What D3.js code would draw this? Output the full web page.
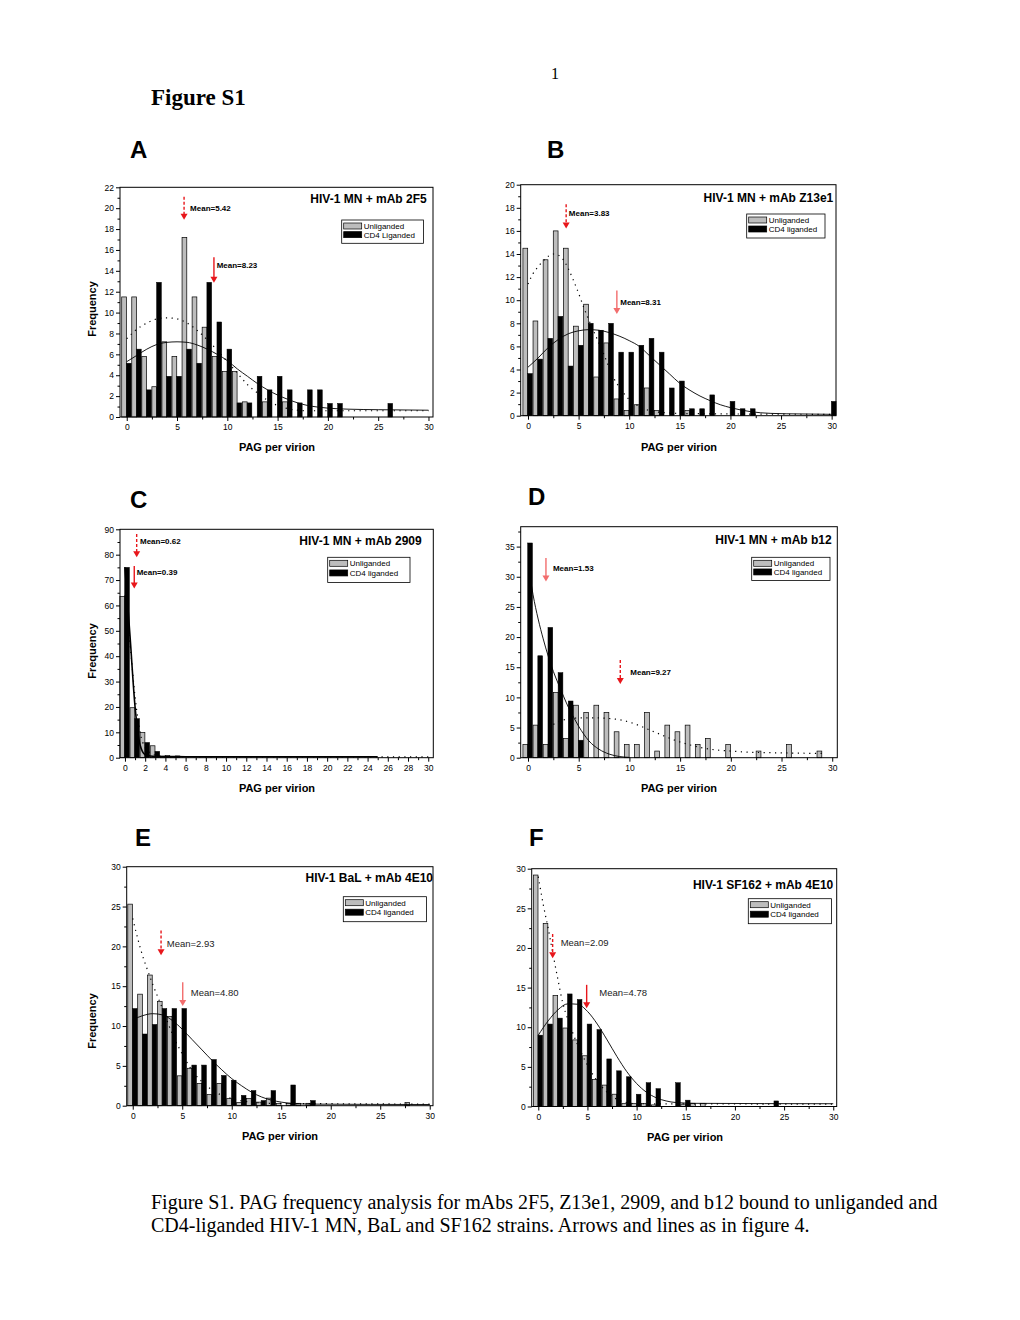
<!DOCTYPE html>
<html><head><meta charset="utf-8">
<script src="https://cdn.jsdelivr.net/npm/d3@7"></script>
<style>body{margin:0;background:#fff}svg{display:block}</style>
</head><body><svg id="c" width="1020" height="1320"></svg>
<script>
// ================= DATA (index = PAG per virion bin) =================
// Panel A: HIV-1 MN + mAb 2F5
const unligA=[11.5,11.5,5.8,2.9,7.2,5.8,17.2,11.5,8.6,5.8,4.35,4.35,1.45,0,1.45,0,1.45];
const ligA=[5.15,6.5,2.6,12.9,3.9,3.9,6.5,5.15,12.9,9.1,6.5,1.35,1.35,3.9,2.6,3.9,2.6,1.35,2.6,2.6,1.3,1.3,0,0,0,0,1.3];
const fitUnligA=[[0,7.5],[1,8.4],[2,9.0],[3,9.4],[4,9.5],[5,9.4],[6,9.0],[7,8.3],[8,7.4],[9,6.4],[10,5.3],[11,4.2],[12,3.1],[13,2.3],[14,1.6],[15,1.1],[16,0.8],[17,0.65],[18,0.6],[20,0.6],[30,0.6]];
const fitLigA=[[0,5.3],[1,5.9],[2,6.5],[3,6.95],[4,7.15],[5,7.2],[6,7.15],[7,6.9],[8,6.5],[9,6.0],[10,5.4],[11,4.6],[12,3.9],[13,3.2],[14,2.6],[15,2.1],[16,1.7],[17,1.35],[18,1.1],[19,0.95],[20,0.85],[22,0.75],[25,0.7],[30,0.65]];
const meansA=[{label:"Mean=5.42",x:5.7,top:21.1,tip:18.9,dashed:true},{label:"Mean=8.23",x:8.67,top:15.3,tip:12.85,dashed:false}];

// Panel B: HIV-1 MN + mAb Z13e1
const unligB=[14.5,8.2,13.5,16.0,14.5,7.75,9.65,3.35,6.3,1.45,0.46,0.95,2.4,0.46,0,0,0.46];
const ligB=[3.65,4.9,6.7,8.6,4.3,6.1,8.0,7.4,8.0,5.5,5.5,6.1,6.7,5.5,2.4,3.0,0.6,0.6,1.8,0,1.24,0.6,0.6,0,0,0,0,0,0,0,1.24];
const fitUnligB=[[0,11.4],[0.5,12.3],[1,12.9],[1.5,13.4],[2,13.8],[2.5,14.0],[3,13.9],[3.5,13.5],[4,12.7],[4.5,11.7],[5,10.6],[5.5,9.4],[6,8.3],[6.5,7.3],[7,6.3],[7.5,5.3],[8,4.2],[8.5,3.2],[9,2.5],[9.5,1.9],[10,1.4],[11,0.8],[12,0.45],[13,0.3],[15,0.2],[20,0.15],[30,0.12]];
const fitLigB=[[0,4.2],[1,5.0],[2,5.9],[3,6.6],[4,7.1],[5,7.35],[6,7.45],[7,7.4],[8,7.2],[9,6.9],[10,6.5],[11,6.0],[12,5.2],[13,4.4],[14,3.6],[15,2.8],[16,2.2],[17,1.7],[18,1.3],[19,0.95],[20,0.7],[21,0.5],[22,0.35],[24,0.2],[27,0.15],[30,0.12]];
const meansB=[{label:"Mean=3.83",x:3.77,top:18.3,tip:16.2,dashed:true},{label:"Mean=8.31",x:8.78,top:10.85,tip:8.8,dashed:false}];

// Panel C: HIV-1 MN + mAb 2909
const unligC=[63.5,19.7,9.9,4.7,0.6,0.4];
const ligC=[75.0,15.4,6.0,2.5,0.8,0.7];
const fitUnligC=[[0,64],[0.5,45],[1,24],[1.5,10],[2,4],[3,1],[4,0.5],[8,0.35],[30,0.3]];
const fitLigC=[[0,75],[0.5,48],[1,20],[1.5,5],[2,1.2],[3,0.5],[6,0.4],[25,0.35]];
const meansC=[{label:"Mean=0.62",x:1.16,top:88.1,tip:79,dashed:true},{label:"Mean=0.39",x:0.92,top:75.5,tip:66.7,dashed:false}];

// Panel D: HIV-1 MN + mAb b12
const unligD=[2.2,5.4,2.2,10.8,3.2,8.7,7.5,8.7,7.5,4.3,2.2,2.2,7.5,1.1,5.4,4.3,5.4,2.2,3.2,0,2.2,0,0,1.1,0,0,2.2,0,0,1.1];
const ligD=[35.6,16.9,21.6,14.1,9.4,2.9];
const fitUnligD=[[2.5,5.5],[3,6.0],[4,6.4],[5,6.6],[6,6.6],[7,6.6],[8,6.5],[9,6.3],[10,5.9],[11,5.3],[12,4.6],[13,3.9],[14,3.2],[15,2.6],[16,2.1],[17,1.7],[18,1.4],[20,1.1],[22,0.9],[25,0.8],[29,0.7]];
const fitLigD=[[0.2,30],[0.5,27],[1,23],[1.5,19.7],[2,16.8],[2.5,14.3],[3,12.2],[3.5,10.2],[4,8.3],[4.5,6.7],[5,5.2],[5.5,3.9],[6,2.8],[7,1.4],[8,0.6],[9,0.2],[10,0.05]];
const meansD=[{label:"Mean=1.53",x:1.77,top:33.1,tip:29.2,dashed:false},{label:"Mean=9.27",x:9.1,top:16.2,tip:12.2,dashed:true}];

// Panel E: HIV-1 BaL + mAb 4E10
const unligE=[25.3,14.0,16.4,13.1,11.2,3.75,4.7,2.8,1.4,2.8,0.9,0.4,0.9,0.45,0.95,0.3,0.3,0.3,0.3,0,0,0,0,0,0,0,0,0,0.4];
const ligE=[12.2,9.0,10.2,12.2,12.2,12.2,5.1,5.1,5.8,3.8,3.2,1.3,1.9,0.65,1.9,0,2.6,0,0.65];
const fitUnligE=[[0,23.5],[0.5,21],[1,18.8],[1.5,17],[2,15.3],[3,12.2],[4,9.0],[5,6.5],[6,4.4],[7,3.0],[8,2.0],[9,1.3],[10,0.9],[11,0.6],[12,0.45],[14,0.3],[20,0.25],[30,0.2]];
const fitLigE=[[0,10.8],[1,11.3],[2,11.55],[3,11.4],[4,10.7],[5,9.6],[6,8.3],[7,7.0],[8,5.7],[9,4.5],[10,3.4],[11,2.5],[12,1.7],[13,1.1],[14,0.7],[15,0.45],[16,0.3],[18,0.2],[30,0.15]];
const meansE=[{label:"Mean=2.93",x:2.86,top:22.0,tip:18.9,dashed:true},{label:"Mean=4.80",x:5.05,top:15.5,tip:12.5,dashed:false}];

// Panel F: HIV-1 SF162 + mAb 4E10
const unligF=[29.2,23.1,14.0,9.9,8.4,6.4,3.4,2.7,1.55,0.4,0.4,0.4,0.2,0,0,0.3,0.4,0.4];
const ligF=[9.0,10.4,11.15,14.2,13.5,10.4,9.7,6.0,4.5,3.75,1.55,3.0,2.25,0,3.0,0.8,0,0,0,0,0,0,0,0,0.7];
const fitUnligF=[[0,29],[0.5,25.5],[1,22.5],[1.5,19.2],[2,16],[2.5,13],[3,11],[3.5,9.3],[4,7.8],[5,5.2],[6,3.2],[7,1.8],[8,0.9],[9,0.5],[10,0.35],[30,0.3]];
const fitLigF=[[0,9.0],[1,10.8],[2,12.2],[3,12.95],[4,12.9],[5,12.0],[6,10.4],[7,8.4],[8,6.3],[9,4.4],[10,2.9],[11,1.8],[12,1.1],[13,0.7],[14,0.5],[16,0.4],[30,0.35]];
const meansF=[{label:"Mean=2.09",x:1.46,top:21.75,tip:18.7,dashed:true},{label:"Mean=4.78",x:4.92,top:15.35,tip:12.4,dashed:false}];

// Tick labels
const xTicks5=[0,5,10,15,20,25,30];
const xMinor5=[2.5,7.5,12.5,17.5,22.5,27.5];
const xTicksC=[0,2,4,6,8,10,12,14,16,18,20,22,24,26,28,30];
const xMinorC=[1,3,5,7,9,11,13,15,17,19,21,23,25,27,29];
const yTicksA=[0,2,4,6,8,10,12,14,16,18,20,22];
const yMinorA=[1,3,5,7,9,11,13,15,17,19,21];
const yTicksB=[0,2,4,6,8,10,12,14,16,18,20];
const yMinorB=[1,3,5,7,9,11,13,15,17,19];
const yTicksC=[0,10,20,30,40,50,60,70,80,90];
const yMinorC=[5,15,25,35,45,55,65,75,85];
const yTicksD=[0,5,10,15,20,25,30,35];
const yMinorD=[2.5,7.5,12.5,17.5,22.5,27.5,32.5,37.5];
const yTicksE=[0,5,10,15,20,25,30];
const yMinorE=[2.5,7.5,12.5,17.5,22.5,27.5];

const legendNames=["Unliganded","CD4 liganded"];
const legendNamesA=["Unliganded","CD4 Liganded"];
const caption=["Figure S1. PAG frequency analysis for mAbs 2F5, Z13e1, 2909, and b12 bound to unliganded and",
"CD4-liganded HIV-1 MN, BaL and SF162 strains. Arrows and lines as in figure 4."];

// ================= LAYOUT =================
const RED="#e8161b", PINK="#f26d6d";
const panels=[
 {letter:["A",130,158],title:"HIV-1 MN + mAb 2F5",u:unligA,l:ligA,fu:fitUnligA,fl:fitLigA,means:meansA,yt:yTicksA,ym:yMinorA,xt:xTicks5,xm:xMinor5,leg:legendNamesA,
  xDom:[-0.67,30.45],xR:[120,433],yDom:[0,22],yR:[417,187.3],tpos:[426.7,202.7],lbox:[341.7,220,81.7,23.3],freq:[96,309],xlab:[277,451],
  loff:[[6,14.3],[2.7,11]],mbold:true,acol:[RED,RED],lw:0.9},
 {letter:["B",547,158],title:"HIV-1 MN + mAb Z13e1",u:unligB,l:ligB,fu:fitUnligB,fl:fitLigB,means:meansB,yt:yTicksB,ym:yMinorB,xt:xTicks5,xm:xMinor5,leg:legendNames,
  xDom:[-0.72,30.43],xR:[520.7,836],yDom:[0,20],yR:[415.7,184.7],tpos:[833.3,202],lbox:[746.7,214,78.3,24],freq:null,xlab:[679,451],
  loff:[[2.7,11.6],[3.4,14.4]],mbold:true,acol:[RED,PINK],lw:0.9},
 {letter:["C",130,508],title:"HIV-1 MN + mAb 2909",u:unligC,l:ligC,fu:fitUnligC,fl:fitLigC,means:meansC,yt:yTicksC,ym:yMinorC,xt:xTicksC,xm:xMinorC,leg:legendNames,
  xDom:[-0.49,30.5],xR:[120,433.3],yDom:[0,90],yR:[757.7,529.3],tpos:[421.7,545],lbox:[327.7,557.3,82.3,25.3],freq:[96,651],xlab:[277,792],
  loff:[[3.3,10],[2.4,9]],mbold:true,acol:[RED,RED],lw:1.6},
 {letter:["D",528,505],title:"HIV-1 MN + mAb b12",u:unligD,l:ligD,fu:fitUnligD,fl:fitLigD,means:meansD,yt:yTicksD,ym:yMinorD,xt:xTicks5,xm:xMinor5,leg:legendNames,
  xDom:[-0.72,30.5],xR:[520.7,837.3],yDom:[0,38.3],yR:[757.7,526.7],tpos:[831.7,544],lbox:[751.7,557.3,78.3,23.3],freq:null,xlab:[679,792],
  loff:[[7,12.7],[10,15]],mbold:true,acol:[PINK,RED],lw:0.9},
 {letter:["E",135,846],title:"HIV-1 BaL + mAb 4E10",u:unligE,l:ligE,fu:fitUnligE,fl:fitLigE,means:meansE,yt:yTicksE,ym:yMinorE,xt:xTicks5,xm:xMinor5,leg:legendNames,
  xDom:[-0.61,30.33],xR:[126.7,433],yDom:[0,30],yR:[1105.7,866.7],tpos:[433,881.7],lbox:[343.3,896.7,83.3,25],freq:[96,1021],xlab:[280,1140],
  loff:[[5.7,16.4],[8,13.3]],mbold:false,acol:[RED,PINK],lw:0.9},
 {letter:["F",529,846],title:"HIV-1 SF162 + mAb 4E10",u:unligF,l:ligF,fu:fitUnligF,fl:fitLigF,means:meansF,yt:yTicksE,ym:yMinorE,xt:xTicks5,xm:xMinor5,leg:legendNames,
  xDom:[-0.67,30.35],xR:[531.7,836.7],yDom:[0,30],yR:[1106.5,868.7],tpos:[833.3,888.7],lbox:[748.3,898.7,83.3,25],freq:null,xlab:[685,1141],
  loff:[[8,12.4],[12.6,10.7]],mbold:false,acol:[RED,RED],lw:0.9}
];

const SANS='"Liberation Sans", Arial, Helvetica, sans-serif';
const SERIF='"Liberation Serif", "Times New Roman", serif';
const svg=d3.select("#c");
svg.append("rect").attr("width",1020).attr("height",1320).attr("fill","#fff");

// page header
svg.append("text").attr("x",555).attr("y",79).attr("text-anchor","middle").attr("font-family",SERIF).attr("font-size",16).text("1");
svg.append("text").attr("x",151).attr("y",105).attr("font-family",SERIF).attr("font-size",23).attr("font-weight","bold").text("Figure S1");
svg.selectAll("text.cap").data(caption).join("text").attr("class","cap")
  .attr("x",151).attr("y",(d,i)=>1209+i*23).attr("font-family",SERIF).attr("font-size",20).text(d=>d);

panels.forEach(p=>{
  const x=d3.scaleLinear().domain(p.xDom).range(p.xR);
  const y=d3.scaleLinear().domain(p.yDom).range(p.yR);
  const g=svg.append("g");
  g.append("text").attr("x",p.letter[1]).attr("y",p.letter[2]).attr("font-family",SANS).attr("font-weight","bold").attr("font-size",24).text(p.letter[0]);

  const uData=p.u.map((v,i)=>({i,v})).filter(d=>d.v>0);
  const lData=p.l.map((v,i)=>({i,v})).filter(d=>d.v>0);
  g.append("g").selectAll("rect").data(uData).join("rect")
    .attr("x",d=>x(d.i-0.5)).attr("width",d=>x(d.i-0.03)-x(d.i-0.5))
    .attr("y",d=>y(d.v)).attr("height",d=>y(0)-y(d.v))
    .attr("fill","#bdbdbd").attr("stroke","#000").attr("stroke-width",0.7);
  g.append("g").selectAll("rect").data(lData).join("rect")
    .attr("x",d=>x(d.i-0.03)).attr("width",d=>x(d.i+0.44)-x(d.i-0.03))
    .attr("y",d=>y(d.v)).attr("height",d=>y(0)-y(d.v))
    .attr("fill","#000").attr("stroke","#000").attr("stroke-width",0.5);

  const line=d3.line().x(d=>x(d[0])).y(d=>y(d[1])).curve(d3.curveMonotoneX);
  g.append("path").attr("d",line(p.fu)).attr("fill","none").attr("stroke","#000").attr("stroke-width",1.2).attr("stroke-dasharray","1.2,4.5");
  g.append("path").attr("d",line(p.fl)).attr("fill","none").attr("stroke","#000").attr("stroke-width",p.lw);

  // frame
  g.append("rect").attr("x",p.xR[0]).attr("y",p.yR[1]).attr("width",p.xR[1]-p.xR[0]).attr("height",p.yR[0]-p.yR[1])
    .attr("fill","none").attr("stroke","#000").attr("stroke-width",1);

  // axes
  const styleAxis=sel=>{sel.select(".domain").remove();sel.attr("font-family",SANS).attr("font-size",8.5);
    sel.selectAll("line").attr("stroke","#000");sel.selectAll("text").attr("fill","#000");};
  g.append("g").attr("transform",`translate(${p.xR[0]},0)`)
    .call(d3.axisLeft(y).tickValues(p.yt).tickSize(4).tickPadding(2).tickFormat(d3.format("d"))).call(styleAxis);
  g.append("g").attr("transform",`translate(${p.xR[0]},0)`)
    .call(d3.axisLeft(y).tickValues(p.ym).tickSize(2.5).tickFormat("")).call(styleAxis);
  g.append("g").attr("transform",`translate(0,${p.yR[0]})`)
    .call(d3.axisBottom(x).tickValues(p.xt).tickSize(4).tickPadding(3).tickFormat(d3.format("d"))).call(styleAxis);
  g.append("g").attr("transform",`translate(0,${p.yR[0]})`)
    .call(d3.axisBottom(x).tickValues(p.xm).tickSize(2.5).tickFormat("")).call(styleAxis);

  // axis titles
  g.append("text").attr("x",p.xlab[0]).attr("y",p.xlab[1]).attr("text-anchor","middle").attr("font-family",SANS)
    .attr("font-weight","bold").attr("font-size",11).text("PAG per virion");
  if(p.freq){
    g.append("text").attr("transform",`translate(${p.freq[0]},${p.freq[1]}) rotate(-90)`).attr("text-anchor","middle")
      .attr("font-family",SANS).attr("font-weight","bold").attr("font-size",11).text("Frequency");
  }
  // title
  g.append("text").attr("x",p.tpos[0]).attr("y",p.tpos[1]).attr("text-anchor","end").attr("font-family",SANS)
    .attr("font-weight","bold").attr("font-size",12).text(p.title);

  // legend
  const [lx,ly,lw,lh]=p.lbox;
  const lg=g.append("g");
  lg.append("rect").attr("x",lx).attr("y",ly).attr("width",lw).attr("height",lh).attr("fill","#fff").attr("stroke","#000").attr("stroke-width",0.8);
  p.leg.forEach((name,k)=>{
    const ry=ly+3+k*(lh-6)/2;
    lg.append("rect").attr("x",lx+2).attr("y",ry).attr("width",18).attr("height",6)
      .attr("fill",k===0?"#bdbdbd":"#000").attr("stroke","#000").attr("stroke-width",0.7);
    lg.append("text").attr("x",lx+22).attr("y",ry+6).attr("font-family",SANS).attr("font-size",8).text(name);
  });

  // mean arrows
  p.means.forEach((m,k)=>{
    const cx=x(m.x), yt=y(m.top), yb=y(m.tip), col=p.acol[k];
    g.append("line").attr("x1",cx).attr("x2",cx).attr("y1",yt).attr("y2",yb-5)
      .attr("stroke",col).attr("stroke-width",1.4).attr("stroke-dasharray",m.dashed?"3,2":null);
    g.append("path").attr("d",`M${cx-3.5},${yb-6}L${cx+3.5},${yb-6}L${cx},${yb}Z`).attr("fill",col);
    g.append("text").attr("x",cx+p.loff[k][0]).attr("y",yt+p.loff[k][1]).attr("font-family",SANS)
      .attr("font-weight",p.mbold?"bold":"normal").attr("font-size",p.mbold?8:9.5).attr("fill",p.mbold?"#000":"#222").text(m.label);
  });
});
</script></body></html>
